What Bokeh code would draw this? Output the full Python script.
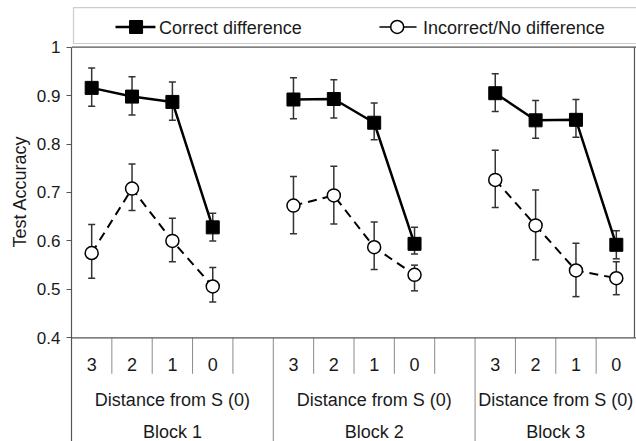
from bokeh.plotting import figure
from bokeh.models import (Range1d, FixedTicker, ColumnDataSource, Whisker, TeeHead,
                          Title, BoxAnnotation, Span)
from bokeh.embed import file_html
from bokeh.resources import INLINE

# ---------------- data ----------------
blocks = ["Block 1", "Block 2", "Block 3"]
slots_per_block = [5, 5, 4]          # block 3 is cut at the right edge
distances = ["3", "2", "1", "0"]
group_label = "Distance from S (0)"

correct_mean = [[0.916, 0.898, 0.887, 0.628],
                [0.892, 0.893, 0.844, 0.594],
                [0.905, 0.849, 0.850, 0.592]]
correct_lo = [[0.878, 0.860, 0.849, 0.600],
              [0.852, 0.854, 0.809, 0.573],
              [0.867, 0.812, 0.814, 0.563]]
correct_hi = [[0.957, 0.939, 0.928, 0.657],
              [0.937, 0.933, 0.885, 0.628],
              [0.945, 0.890, 0.892, 0.621]]

incorrect_mean = [[0.575, 0.708, 0.600, 0.506],
                  [0.673, 0.694, 0.587, 0.530],
                  [0.726, 0.632, 0.539, 0.523]]
incorrect_lo = [[0.523, 0.663, 0.557, 0.474],
                [0.615, 0.635, 0.541, 0.497],
                [0.669, 0.561, 0.485, 0.489]]
incorrect_hi = [[0.634, 0.759, 0.647, 0.545],
                [0.733, 0.754, 0.639, 0.550],
                [0.787, 0.705, 0.595, 0.557]]

y_ticks = [0.4, 0.5, 0.6, 0.7, 0.8, 0.9, 1.0]
y_tick_labels = ["0.4", "0.5", "0.6", "0.7", "0.8", "0.9", "1"]
series_names = ["Correct difference", "Incorrect/No difference"]
y_title = "Test Accuracy"

# ---------------- layout helpers ----------------
FONT = "Liberation Sans"
TXT = "#1a1a1a"
AX = "#555555"
SEP = "#8a8a8a"

block_start = []
acc = 0
for n in slots_per_block:
    block_start.append(acc)
    acc += n
n_slots = acc

Y_BOT, Y_TOP = 0.1859, 1.0964

p = figure(width=636, height=441, output_backend="svg", toolbar_location=None,
           x_range=Range1d(0, n_slots), y_range=Range1d(Y_BOT, Y_TOP),
           x_axis_location=None, min_border_left=71, min_border_right=0,
           min_border_top=0, min_border_bottom=0)
p.outline_line_color = None
p.grid.visible = False
p.background_fill_color = "white"
p.border_fill_color = "white"

ya = p.yaxis[0]
ya.ticker = FixedTicker(ticks=y_ticks)
ya.major_label_overrides = {t: l for t, l in zip(y_ticks, y_tick_labels)}
ya.bounds = (Y_BOT, 1.0)
ya.axis_line_color = AX
ya.axis_line_width = 1.2
ya.major_tick_line_color = AX
ya.major_tick_out = 5
ya.major_tick_in = 0
ya.minor_tick_line_color = None
ya.major_label_text_font = FONT
ya.major_label_text_font_size = "17px"
ya.major_label_text_color = TXT
ya.major_label_standoff = 6

# y title (left side panel)
p.add_layout(Title(text=y_title, align="left", offset=194, text_font=FONT,
                   text_font_size="18px", text_font_style="normal",
                   text_color=TXT, standoff=7), "left")

# frame lines
p.add_layout(Span(location=1.0, dimension="width", line_color=AX, line_width=1.2))
p.add_layout(Span(location=0.4, dimension="width", line_color=AX, line_width=1.2))
p.segment(x0=[n_slots - 0.05], y0=[0.4], x1=[n_slots - 0.05], y1=[1.0],
          line_color=AX, line_width=1.2)

# category band below the plot
tick_x, tick_t = [], []
sep_x = []
for b, (start, n) in enumerate(zip(block_start, slots_per_block)):
    for j, d in enumerate(distances):
        tick_x.append(start + j + 0.5)
        tick_t.append(d)
    for k in range(1, n):
        sep_x.append(start + k)
p.segment(x0=sep_x, y0=[0.4] * len(sep_x), x1=sep_x, y1=[0.3257] * len(sep_x),
          line_color=SEP, line_width=1)
long_x = block_start[1:]
p.segment(x0=long_x, y0=[0.4] * len(long_x), x1=long_x, y1=[Y_BOT] * len(long_x),
          line_color=SEP, line_width=1)
p.text(x=tick_x, y=[0.3442] * len(tick_x), text=tick_t, text_align="center",
       text_baseline="middle", text_font={"value": FONT}, text_font_size="18px",
       text_color=TXT)
gx = [s + n / 2 for s, n in zip(block_start, slots_per_block)]
p.text(x=gx, y=[0.2726] * 3, text=[group_label] * 3, text_align="center",
       text_baseline="middle", text_font={"value": FONT}, text_font_size="18px",
       text_color=TXT)
p.text(x=gx, y=[0.2051] * 3, text=blocks, text_align="center",
       text_baseline="middle", text_font={"value": FONT}, text_font_size="18px",
       text_color=TXT)

# ---------------- data series ----------------
def series(mean, lo, hi):
    xs, ys, los, his = [], [], [], []
    for b, start in enumerate(block_start):
        for j in range(len(distances)):
            xs.append(start + j + 0.5)
            ys.append(mean[b][j])
            los.append(lo[b][j])
            his.append(hi[b][j])
    return ColumnDataSource(dict(x=xs, y=ys, lo=los, hi=his))

src_c = series(correct_mean, correct_lo, correct_hi)
src_i = series(incorrect_mean, incorrect_lo, incorrect_hi)

for src in (src_c, src_i):
    w = Whisker(base="x", lower="lo", upper="hi", source=src, line_color="#333333",
                line_width=1.5, level="underlay",
                upper_head=TeeHead(size=7, line_color="#333333", line_width=1.5),
                lower_head=TeeHead(size=7, line_color="#333333", line_width=1.5))
    p.add_layout(w)

for b, start in enumerate(block_start):
    xs = [start + j + 0.5 for j in range(len(distances))]
    p.line(xs, incorrect_mean[b], line_color="black", line_width=2, line_dash="9 6")
    p.line(xs, correct_mean[b], line_color="black", line_width=2.5)

p.scatter("x", "y", source=src_i, marker="circle", size=13, fill_color="white",
          line_color="black", line_width=1.5)
p.scatter("x", "y", source=src_c, marker="square", size=13, fill_color="black",
          line_color="black")

# ---------------- legend (drawn) ----------------
p.add_layout(BoxAnnotation(left=0.05, right=n_slots + 1, bottom=1.0076, top=1.0815,
                           fill_alpha=0, line_color=AX, line_width=1.2))
LY = 1.0417
p.line([1.09, 2.08], [LY, LY], line_color="black", line_width=2.5)
p.scatter([1.60], [LY], marker="square", size=13, fill_color="black", line_color="black")
p.line([7.63, 8.55], [LY, LY], line_color="black", line_width=1.5)
p.scatter([8.07], [LY], marker="circle", size=13, fill_color="white", line_color="black",
          line_width=1.5)
p.text(x=[2.17, 8.71], y=[1.0396, 1.0396], text=series_names, text_align="left",
       text_baseline="middle", text_font={"value": FONT}, text_font_size="18px",
       text_color=TXT)

open("out.html", "w").write(file_html(p, INLINE))
